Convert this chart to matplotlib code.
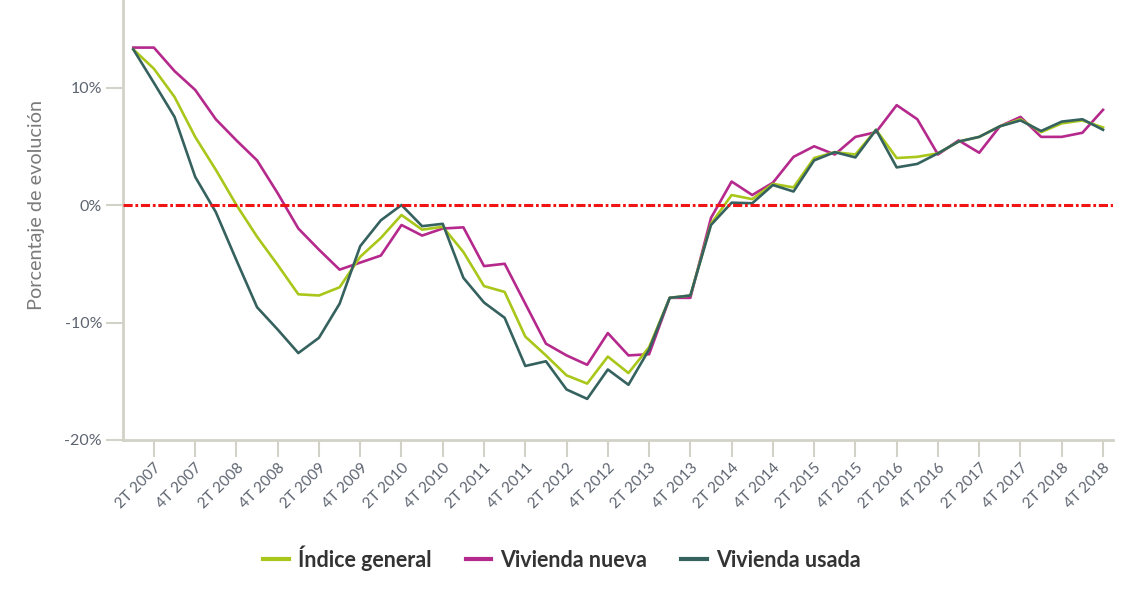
import matplotlib
matplotlib.use("Agg")
import matplotlib.pyplot as plt
from matplotlib.ticker import FuncFormatter

# Trimestres de 1T 2007 a 4T 2018
quarters = [f"{q}T {y}" for y in range(2007, 2019) for q in (1, 2, 3, 4)]

indice_general = [13.25, 11.6, 9.2, 5.8, 3.0, 0.0, -2.7, -5.1, -7.6, -7.7, -7.0, -4.4,
                  -2.8, -0.85, -2.1, -1.85, -4.0, -6.9, -7.4, -11.2, -12.8, -14.5, -15.2, -12.9,
                  -14.3, -12.1, -7.9, -7.7, -1.6, 0.85, 0.5, 1.8, 1.5, 4.0, 4.5, 4.3,
                  6.4, 4.0, 4.1, 4.4, 5.4, 5.8, 6.7, 7.3, 6.2, 6.95, 7.2, 6.6]

vivienda_nueva = [13.4, 13.4, 11.4, 9.8, 7.3, 5.5, 3.8, 1.0, -2.0, -3.8, -5.5, -4.9,
                  -4.3, -1.7, -2.6, -2.0, -1.9, -5.2, -5.0, -8.4, -11.8, -12.8, -13.6, -10.9,
                  -12.8, -12.7, -7.9, -7.9, -1.1, 2.0, 0.85, 1.9, 4.1, 5.0, 4.3, 5.8,
                  6.2, 8.5, 7.3, 4.3, 5.5, 4.45, 6.7, 7.5, 5.8, 5.8, 6.15, 8.1]

vivienda_usada = [13.25, 10.4, 7.5, 2.4, -0.6, -4.7, -8.7, -10.6, -12.6, -11.3, -8.4, -3.5,
                  -1.3, 0.0, -1.8, -1.6, -6.2, -8.3, -9.6, -13.7, -13.3, -15.7, -16.5, -14.0,
                  -15.3, -12.3, -7.9, -7.7, -1.7, 0.2, 0.15, 1.7, 1.15, 3.8, 4.5, 4.05,
                  6.4, 3.2, 3.5, 4.4, 5.4, 5.8, 6.7, 7.2, 6.3, 7.1, 7.3, 6.4]

y_ticks = [-20, -10, 0, 10]

axis_color = "#d2d2c8"
text_color = "#5d6470"

plt.rcParams["font.family"] = ["Lato", "DejaVu Sans"]

fig = plt.figure(figsize=(11.28, 5.91), dpi=100)
ax = fig.add_axes([0.109, 0.2555, 0.878, 0.7445])

x = list(range(len(quarters)))

ax.plot(x, vivienda_nueva, color="#b5288c", lw=1.9, zorder=2, label="Vivienda nueva")
ax.plot(x, indice_general, color="#a9c71a", lw=1.9, zorder=3, label="Índice general")
ax.plot(x, vivienda_usada, color="#35625f", lw=1.9, zorder=4, label="Vivienda usada")

# Línea de referencia en 0%
ax.axhline(0, color="#f01414", lw=2.2, linestyle=(0, (3.0, 0.9, 0.9, 0.9)), zorder=5)

ax.set_xlim(-0.5, 47.5)
ax.set_ylim(-20, 17.45)

# Etiquetas cada dos trimestres (2T y 4T)
tick_pos = x[1::2]
ax.set_xticks(tick_pos)
ax.set_xticklabels([quarters[i] for i in tick_pos], rotation=45, ha="right",
                   rotation_mode="anchor", fontsize=11, color=text_color)
ax.set_yticks(y_ticks)
ax.yaxis.set_major_formatter(FuncFormatter(lambda v, p: f"{v:.0f}%"))
for lab in ax.get_yticklabels():
    lab.set_fontsize(11.5)
    lab.set_color(text_color)

ax.tick_params(axis="x", length=12, width=1.5, color=axis_color, pad=3)
ax.tick_params(axis="y", length=12, width=1.5, color=axis_color, pad=3)

for side in ("top", "right"):
    ax.spines[side].set_visible(False)
for side in ("left", "bottom"):
    ax.spines[side].set_color(axis_color)
    ax.spines[side].set_linewidth(2)

ax.set_ylabel("Porcentaje de evolución", fontsize=14.3, color="#7a7a7a")
ax.yaxis.set_label_coords(-0.079, 0.534)

handles, labels = ax.get_legend_handles_labels()
order = [1, 0, 2]
leg = fig.legend([handles[i] for i in order], [labels[i] for i in order],
                 loc="center", bbox_to_anchor=(0.498, 0.056), ncol=3, frameon=False,
                 handlelength=1.2, handletextpad=0.4, columnspacing=1.6,
                 prop={"size": 15.5, "weight": "bold"})
for t in leg.get_texts():
    t.set_color("#333333")
for h in leg.get_lines():
    h.set_linewidth(3)

fig.savefig("out.png", dpi=100)
